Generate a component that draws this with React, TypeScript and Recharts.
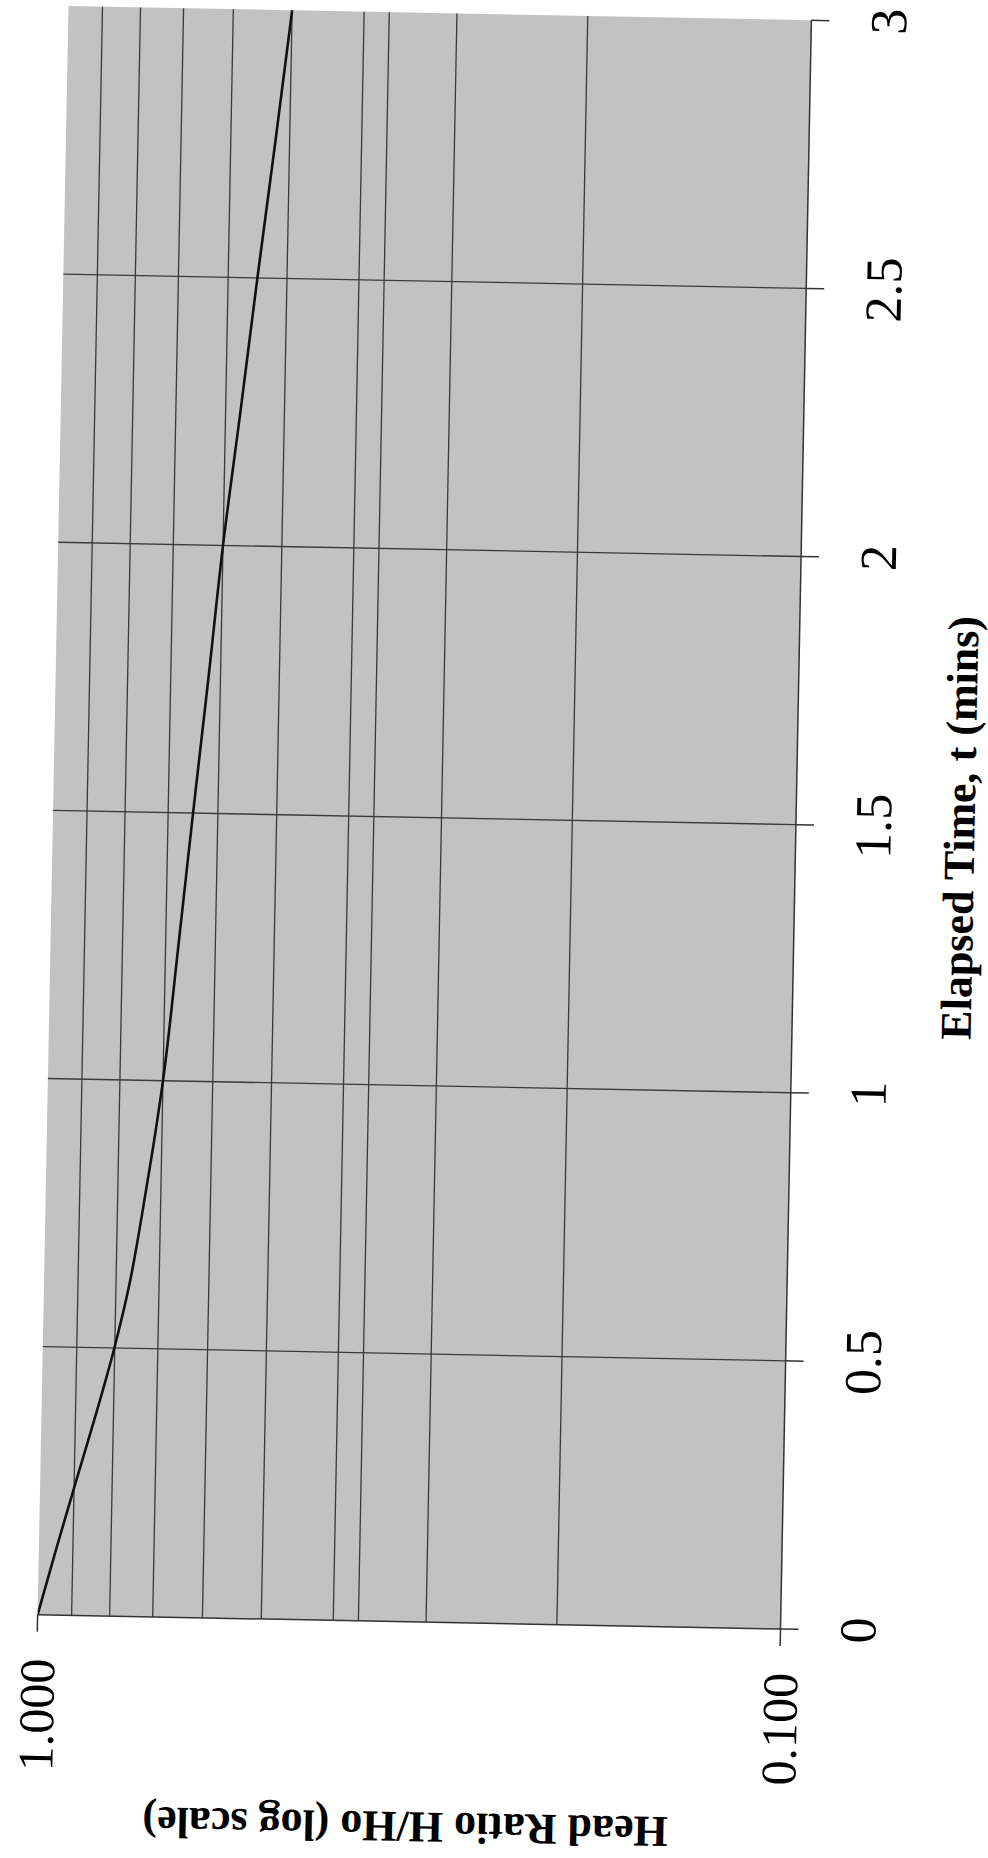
import React from 'react';
import {
  LineChart,
  Line,
  XAxis,
  YAxis,
  CartesianGrid,
  ReferenceLine,
} from 'recharts';

// Elapsed time (mins) and head ratio H/Ho
const TIMES = [0, 0.125, 0.25, 0.375, 0.5, 0.625, 0.75, 0.875, 1, 1.25, 1.5, 1.75, 2, 2.25, 2.5, 2.75, 3];
const HEAD_RATIO = [1.0, 0.947, 0.895, 0.845, 0.801, 0.766, 0.741, 0.719, 0.7, 0.673, 0.648, 0.623, 0.6, 0.573, 0.548, 0.523, 0.5];

const TIME_TICKS = [0, 0.5, 1, 1.5, 2, 2.5, 3];
const RATIO_TICKS = [0.1, 1];
const TIME_GRID = [0.5, 1, 1.5, 2, 2.5];
const RATIO_GRID = [0.9, 0.8, 0.7, 0.6, 0.5, 0.4, 0.37, 0.3, 0.2];

const X_TITLE = 'Elapsed Time, t (mins)';
const Y_TITLE = 'Head Ratio H/Ho (log scale)';

const data = TIMES.map((t, i) => ({ t, h: HEAD_RATIO[i] }));

// layout (chart drawn in its natural orientation, then the page rotates it like the scan)
const PLOT_W = 1609;
const PLOT_H = 743;
const Y_AXIS_W = 412;
const X_AXIS_H = 326;
const CHART_W = PLOT_W + 2 * Y_AXIS_W;
const CHART_H = PLOT_H + 2 * X_AXIS_H;
const CENTER_X = 424.5;
const CENTER_Y = 817.25;
const FONT = '"Liberation Serif", "Times New Roman", serif';
const GRID_COLOR = '#3a3a3a';

export default function App() {
  return (
    <div
      style={{
        position: 'absolute',
        left: 0,
        top: 0,
        width: 988,
        height: 1858,
        overflow: 'hidden',
        background: '#ffffff',
      }}
    >
      <div
        style={{
          position: 'absolute',
          width: CHART_W,
          height: CHART_H,
          left: CENTER_X - CHART_W / 2,
          top: CENTER_Y - CHART_H / 2,
          transformOrigin: '50% 50%',
          transform: 'rotate(-88.9deg)',
        }}
      >
        <LineChart
          width={CHART_W}
          height={CHART_H}
          data={data}
          margin={{ top: X_AXIS_H, right: Y_AXIS_W, bottom: 0, left: 0 }}
        >
          <CartesianGrid
            horizontal={false}
            vertical={false}
            fill="#c2c2c2"
            fillOpacity={1}
            stroke="none"
          />
          {TIME_GRID.map((t) => (
            <ReferenceLine key={'t' + t} x={t} stroke={GRID_COLOR} strokeWidth={1.3} />
          ))}
          {RATIO_GRID.map((v) => (
            <ReferenceLine key={'r' + v} y={v} stroke={GRID_COLOR} strokeWidth={1.3} />
          ))}
          <XAxis
            dataKey="t"
            type="number"
            domain={[0, 3]}
            ticks={TIME_TICKS}
            interval={0}
            height={X_AXIS_H}
            tickSize={18}
            tickMargin={40}
            stroke="#333333"
            strokeWidth={1.5}
            tick={{ fontSize: 52, fill: '#000000', fontFamily: FONT }}
            label={{
              value: X_TITLE,
              position: 'center',
              fontSize: 44,
              fontWeight: 'bold',
              fill: '#000000',
              fontFamily: FONT,
            }}
          />
          <YAxis
            type="number"
            scale="log"
            domain={[0.1, 1]}
            allowDataOverflow
            ticks={RATIO_TICKS}
            interval={0}
            width={Y_AXIS_W}
            tickSize={17}
            tickMargin={27}
            stroke="#333333"
            strokeWidth={1.5}
            tickFormatter={(v: number) => v.toFixed(3)}
            tick={{ fontSize: 50, fill: '#000000', fontFamily: FONT }}
            label={{
              value: Y_TITLE,
              position: 'center',
              angle: -90,
              fontSize: 44,
              fontWeight: 'bold',
              fill: '#000000',
              fontFamily: FONT,
            }}
          />
          <Line
            type="monotone"
            dataKey="h"
            stroke="#111111"
            strokeWidth={2.6}
            dot={false}
            isAnimationActive={false}
          />
        </LineChart>
      </div>
    </div>
  );
}
